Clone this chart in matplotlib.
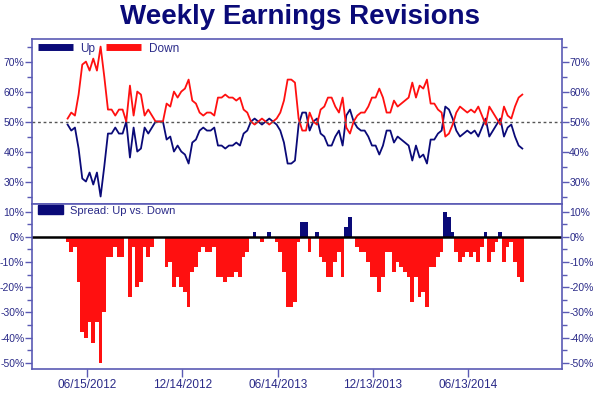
import pandas as pd
import matplotlib
matplotlib.use('Agg')
import matplotlib.pyplot as plt
import matplotlib.dates as mdates
from matplotlib.patches import Patch
from matplotlib.ticker import MultipleLocator, FuncFormatter

plt.rcParams['font.family'] = ['Liberation Sans', 'DejaVu Sans']

# weekly share of upward revisions (%)
up = [49, 47, 48, 41, 31, 30, 33, 29, 33, 25,
      35, 46, 46, 48, 46, 46, 50, 38, 48, 40,
      41, 48, 46, 48, 50, 50, 50, 44, 45, 40,
      42, 40, 39, 36, 43, 44, 47, 48, 47, 47,
      48, 42, 42, 41, 42, 42, 43, 42, 46, 47,
      50, 51, 50, 49, 50, 51, 50, 49, 47, 43,
      36, 36, 37, 49, 53, 53, 47, 50, 51, 46,
      45, 42, 42, 45, 47, 42, 52, 54, 50, 48,
      47, 47, 45, 42, 42, 39, 42, 47, 47, 43,
      45, 44, 43, 42, 37, 42, 38, 39, 36, 44,
      44, 46, 47, 55, 54, 51, 47, 45, 46, 47,
      46, 47, 45, 48, 51, 45, 47, 49, 51, 45,
      48, 49, 45, 42, 41]
down = [100 - u for u in up]
spread = [u - d for u, d in zip(up, down)]

dates = pd.date_range('2012-05-09', periods=len(up), freq='7D')
tick_dates = pd.to_datetime(['2012-06-15', '2012-12-14', '2013-06-14',
                             '2013-12-13', '2014-06-13'])

navy = '#0a0a78'
red = '#ff1010'
axis_col = '#5a5ab4'
text_col = '#2a2a88'

fig = plt.figure(figsize=(6, 3.95), dpi=100)
ax1 = fig.add_axes([0.0533, 0.4835, 0.8827, 0.4175])
ax2 = fig.add_axes([0.0533, 0.0658, 0.8827, 0.4177], sharex=ax1)

fig.text(0.5, 0.957, 'Weekly Earnings Revisions', ha='center', va='center',
         fontsize=20, fontweight='bold', color=navy)

# top panel: up / down lines
ax1.plot(dates, up, color=navy, lw=1.3, label='Up')
ax1.plot(dates, down, color=red, lw=1.3, label='Down')
ax1.axhline(50, color='#555555', lw=1, ls=(0, (2, 2)))
ax1.set_ylim(22.5, 77.5)
ax1.yaxis.set_major_locator(MultipleLocator(10))
ax1.yaxis.set_minor_locator(MultipleLocator(5))
leg = ax1.legend(loc='upper left', bbox_to_anchor=(0.0, 1.015), ncol=2, frameon=False,
                 handlelength=3.0, columnspacing=0.9, handletextpad=0.6,
                 borderaxespad=0.1, fontsize=8.5)
for h in leg.legend_handles:
    h.set_linewidth(5)
    h.set_solid_capstyle('butt')
for t in leg.get_texts():
    t.set_color(text_col)

# bottom panel: spread bars
bar_cols = [navy if s > 0 else red for s in spread]
ax2.bar(dates, spread, width=7, color=bar_cols, align='center', linewidth=0)
ax2.axhline(0, color='black', lw=1.8)
ax2.set_ylim(-52.5, 13)
ax2.yaxis.set_major_locator(MultipleLocator(10))
ax2.yaxis.set_minor_locator(MultipleLocator(5))
leg2 = ax2.legend(handles=[Patch(color=navy, label='Spread: Up vs. Down')],
                  loc='upper left', bbox_to_anchor=(0.0, 1.025), frameon=False,
                  handlelength=2.3, handleheight=0.8, handletextpad=0.6,
                  borderaxespad=0.1, fontsize=8)
for t in leg2.get_texts():
    t.set_color(text_col)

pct = FuncFormatter(lambda v, p: f'{v:.0f}%')
for ax in (ax1, ax2):
    ax.yaxis.set_major_formatter(pct)
    for sp in ax.spines.values():
        sp.set_color(axis_col)
        sp.set_linewidth(1.2)
    ax.tick_params(axis='y', which='both', left=True, right=True,
                   labelleft=True, labelright=True, direction='out',
                   colors=axis_col, labelcolor=text_col, labelsize=7.5, pad=0.5)
    ax.tick_params(axis='y', which='major', length=5, width=1)
    ax.tick_params(axis='y', which='minor', length=3.5, width=1)

ax1.tick_params(axis='x', which='both', bottom=False, labelbottom=False)
ax2.set_xlim(pd.Timestamp('2012-03-02'), pd.Timestamp('2014-12-08'))
ax2.set_xticks(tick_dates)
ax2.xaxis.set_major_formatter(mdates.DateFormatter('%m/%d/%Y'))
ax2.tick_params(axis='x', direction='out', length=6, width=1, colors=axis_col,
                labelcolor=text_col, labelsize=8.5, pad=1)

fig.savefig('out.png', dpi=100, facecolor='white')
